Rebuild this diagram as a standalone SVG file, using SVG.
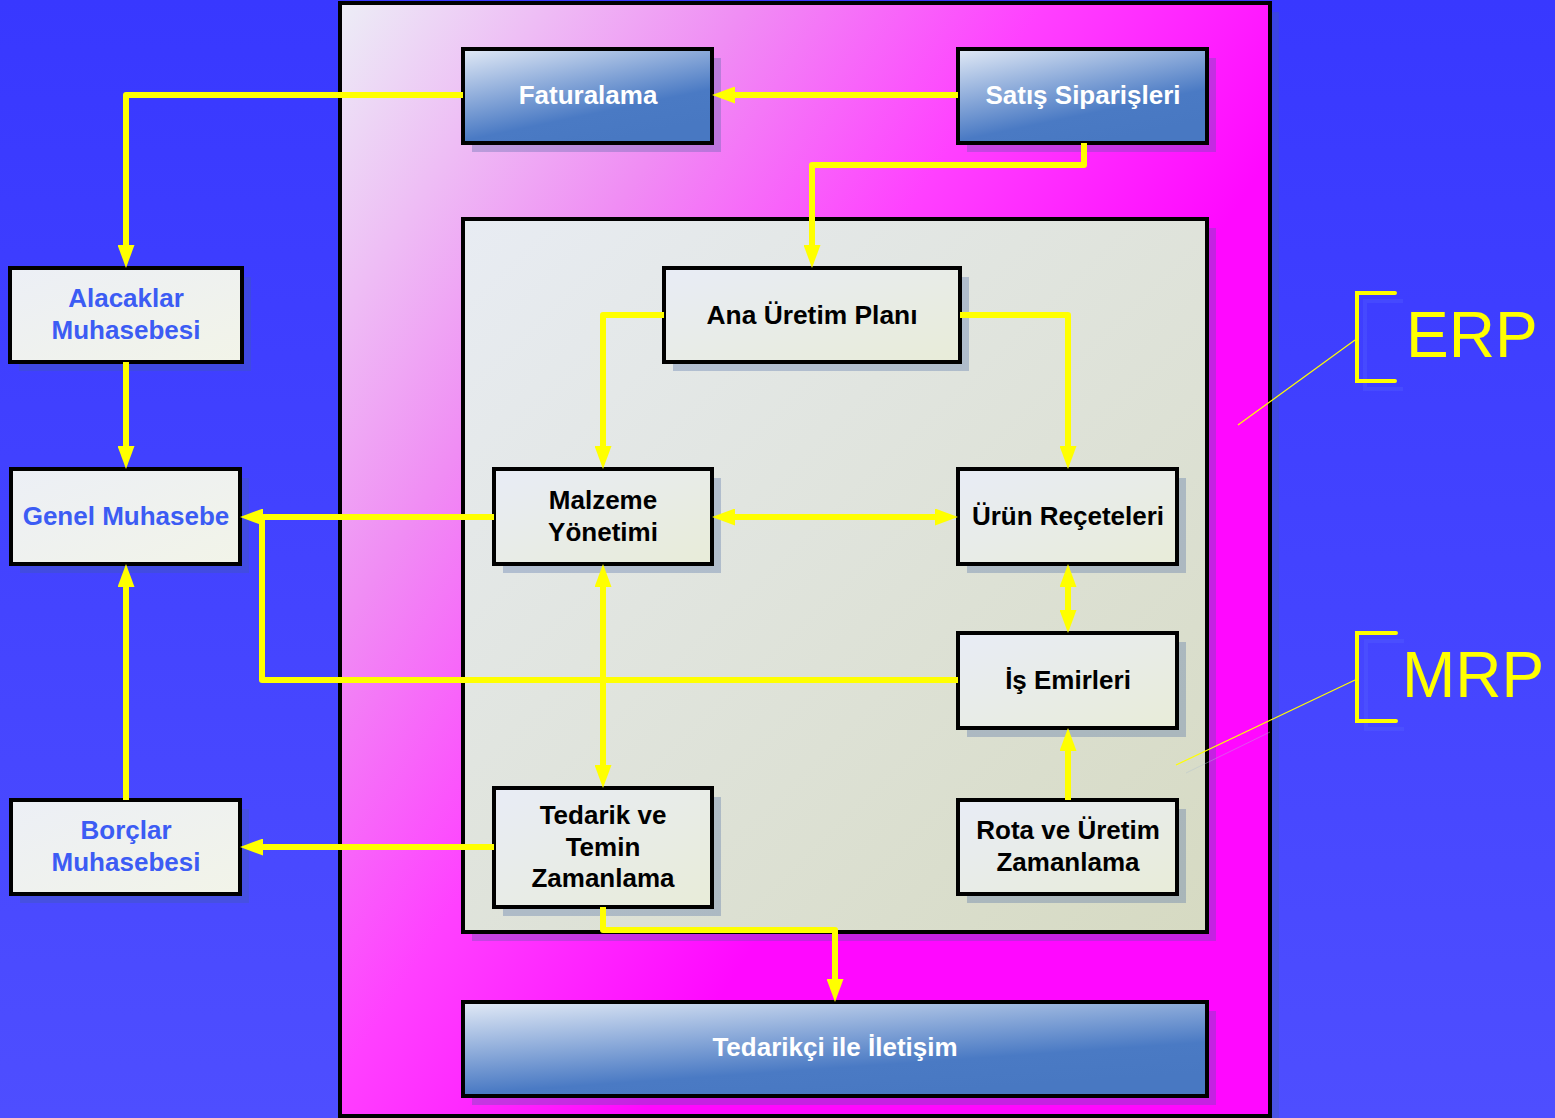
<svg xmlns="http://www.w3.org/2000/svg" width="1555" height="1118" viewBox="0 0 1555 1118">
<defs>
<linearGradient id="bg" x1="0" y1="0" x2="0" y2="1">
<stop offset="0" stop-color="#3838ff"/><stop offset="1" stop-color="#4e4eff"/>
</linearGradient>
<linearGradient id="outer" gradientUnits="userSpaceOnUse" x1="340" y1="3" x2="1100" y2="500">
<stop offset="0" stop-color="#eceef6"/><stop offset="0.38" stop-color="#f08cf4"/><stop offset="0.65" stop-color="#ff40ff"/><stop offset="0.95" stop-color="#ff08ff"/>
</linearGradient>
<linearGradient id="inner" x1="0" y1="0" x2="1" y2="1">
<stop offset="0" stop-color="#e8ecf3"/><stop offset="1" stop-color="#d6dac2"/>
</linearGradient>
<linearGradient id="light" x1="0" y1="0" x2="1" y2="1">
<stop offset="0" stop-color="#e8ecf6"/><stop offset="1" stop-color="#e8ecd8"/>
</linearGradient>
<linearGradient id="left" x1="0" y1="0" x2="1" y2="1">
<stop offset="0" stop-color="#eceff6"/><stop offset="1" stop-color="#f2f4e8"/>
</linearGradient>
<linearGradient id="blue" x1="0" y1="0" x2="0.55" y2="1">
<stop offset="0" stop-color="#e2eaf6"/><stop offset="0.75" stop-color="#4a7ac4"/><stop offset="1" stop-color="#4878c2"/>
</linearGradient>
<marker id="ah" viewBox="0 0 23 17" refX="0" refY="8.5" markerWidth="23" markerHeight="17" markerUnits="userSpaceOnUse" orient="auto-start-reverse">
<path d="M0,0 L23,8.5 L0,17 z" fill="#ffff00"/>
</marker>
<style>
.sh{fill:#4060a0;opacity:0.3}
.box{stroke:#000;stroke-width:4}
.tw{font-family:"Liberation Sans",Arial,sans-serif;font-weight:bold;font-size:26px;fill:#ffffff;text-anchor:middle}
.tk{font-family:"Liberation Sans",Arial,sans-serif;font-weight:bold;font-size:26px;fill:#000000;text-anchor:middle}
.tb{font-family:"Liberation Sans",Arial,sans-serif;font-weight:bold;font-size:26px;fill:#3c5cf4;text-anchor:middle}
.big{font-family:"Liberation Sans",Arial,sans-serif;font-size:64px;fill:#ffff00}
.c{fill:none;stroke:#ffff00;stroke-width:6;stroke-linejoin:round}
.a{marker-end:url(#ah)}
.aa{marker-end:url(#ah);marker-start:url(#ah)}
</style>
</defs>
<rect x="0" y="0" width="1555" height="1118" fill="url(#bg)"/>

<g id="outer-panel">
<rect x="349" y="12" width="930" height="1113" class="sh" opacity="0.15"/>
<rect x="340" y="3" width="930" height="1113" fill="url(#outer)" class="box"/>
</g>
<g id="inner-panel">
<rect x="472" y="228" width="744" height="713" class="sh"/>
<rect x="463" y="219" width="744" height="713" fill="url(#inner)" class="box"/>
</g>

<g id="faturalama">
<rect x="472" y="58" width="249" height="94" class="sh"/>
<rect x="463" y="49" width="249" height="94" fill="url(#blue)" class="box"/>
<text x="588" y="104" class="tw">Faturalama</text>
</g>
<g id="satis-siparisleri">
<rect x="967" y="58" width="249" height="94" class="sh"/>
<rect x="958" y="49" width="249" height="94" fill="url(#blue)" class="box"/>
<text x="1083" y="104" class="tw">Satış Siparişleri</text>
</g>
<g id="ana-uretim-plani">
<rect x="673" y="277" width="296" height="94" class="sh"/>
<rect x="664" y="268" width="296" height="94" fill="url(#light)" class="box"/>
<text x="812" y="324" class="tk" textLength="211" lengthAdjust="spacingAndGlyphs">Ana Üretim Planı</text>
</g>
<g id="malzeme-yonetimi">
<rect x="503" y="478" width="218" height="95" class="sh"/>
<rect x="494" y="469" width="218" height="95" fill="url(#light)" class="box"/>
<text x="603" y="509" class="tk">Malzeme</text>
<text x="603" y="541" class="tk">Yönetimi</text>
</g>
<g id="urun-receteleri">
<rect x="967" y="478" width="219" height="95" class="sh"/>
<rect x="958" y="469" width="219" height="95" fill="url(#light)" class="box"/>
<text x="1068" y="525" class="tk">Ürün Reçeteleri</text>
</g>
<g id="is-emirleri">
<rect x="967" y="642" width="219" height="95" class="sh"/>
<rect x="958" y="633" width="219" height="95" fill="url(#light)" class="box"/>
<text x="1068" y="689" class="tk">İş Emirleri</text>
</g>
<g id="tedarik-ve-temin">
<rect x="503" y="797" width="218" height="119" class="sh"/>
<rect x="494" y="788" width="218" height="119" fill="url(#light)" class="box"/>
<text x="603" y="824" class="tk">Tedarik ve</text>
<text x="603" y="856" class="tk">Temin</text>
<text x="603" y="887" class="tk">Zamanlama</text>
</g>
<g id="rota-ve-uretim">
<rect x="967" y="809" width="219" height="94" class="sh"/>
<rect x="958" y="800" width="219" height="94" fill="url(#light)" class="box"/>
<text x="1068" y="839" class="tk">Rota ve Üretim</text>
<text x="1068" y="871" class="tk">Zamanlama</text>
</g>
<g id="tedarikci-ile-iletisim">
<rect x="472" y="1011" width="744" height="94" class="sh"/>
<rect x="463" y="1002" width="744" height="94" fill="url(#blue)" class="box"/>
<text x="835" y="1056" class="tw">Tedarikçi ile İletişim</text>
</g>

<g id="alacaklar-muhasebesi">
<rect x="19" y="277" width="232" height="94" class="sh"/>
<rect x="10" y="268" width="232" height="94" fill="url(#left)" class="box"/>
<text x="126" y="307" class="tb">Alacaklar</text>
<text x="126" y="339" class="tb">Muhasebesi</text>
</g>
<g id="genel-muhasebe">
<rect x="20" y="478" width="229" height="95" class="sh"/>
<rect x="11" y="469" width="229" height="95" fill="url(#left)" class="box"/>
<text x="126" y="525" class="tb">Genel Muhasebe</text>
</g>
<g id="borclar-muhasebesi">
<rect x="20" y="809" width="229" height="94" class="sh"/>
<rect x="11" y="800" width="229" height="94" fill="url(#left)" class="box"/>
<text x="126" y="839" class="tb">Borçlar</text>
<text x="126" y="871" class="tb">Muhasebesi</text>
</g>

<g id="connectors">
<path class="c a" d="M463,95 H126 V245"/>
<path class="c a" d="M958,95 H735"/>
<path class="c a" d="M1084,143 V165 H812 V245"/>
<path class="c a" d="M664,315 H603 V446"/>
<path class="c a" d="M960,315 H1068 V446"/>
<path class="c aa" d="M735,517 H935"/>
<path class="c a" d="M494,517 H263"/>
<path class="c a" d="M126,362 V446"/>
<path class="c a" d="M126,800 V587"/>
<path class="c" d="M958,680 H262 V517"/>
<path class="c aa" d="M603,587 V765"/>
<path class="c aa" d="M1068,587 V610"/>
<path class="c a" d="M1068,800 V751"/>
<path class="c a" d="M494,847 H263"/>
<path class="c a" d="M603,907 V930 H835 V979"/>
</g>

<g id="erp-label">
<path d="M1403,301 H1365 V389 H1403" fill="none" stroke="#5a6aff" stroke-width="4" opacity="0.25"/>
<path d="M1395,293 H1357 V381 H1395" fill="none" stroke="#ffff00" stroke-width="4" stroke-linecap="round"/>
<line x1="1355" y1="340" x2="1238" y2="425" stroke="#ffff00" stroke-width="1.2"/>
<text x="1406" y="357" class="big">ERP</text>
</g>
<g id="mrp-label">
<path d="M1404,641 H1366 V729 H1404" fill="none" stroke="#5a6aff" stroke-width="4" opacity="0.25"/>
<path d="M1396,633 H1357 V721 H1396" fill="none" stroke="#ffff00" stroke-width="4" stroke-linecap="round"/>
<line x1="1355" y1="680" x2="1176" y2="765" stroke="#ffff00" stroke-width="1.2"/>
<line x1="1270" y1="732" x2="1186" y2="773" stroke="#b0c0d0" stroke-width="1" opacity="0.4"/>
<text x="1402" y="697" class="big">MRP</text>
</g>
</svg>
